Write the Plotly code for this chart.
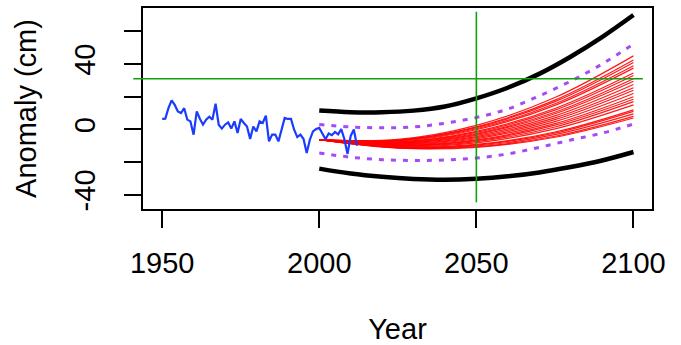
import plotly.graph_objects as go

# ---------------- data ----------------
obs_years = list(range(1950, 2013))
obs_values = [6.4, 6.6, 13.0, 17.8, 15.0, 11.0, 10.0, 13.0, 6.0, 4.9,
              -3.2, 11.0, 6.5, 2.9, 5.9, 7.8, 6.0, 15.7, 2.9, 0.5,
              2.9, 4.3, 0.5, 4.9, -2.2, 6.4, 3.9, 1.8, -5.9, 1.8,
              -1.2, 4.9, 3.9, 8.4, -7.3, -3.2, -3.2, -7.3, -0.2, 7.0,
              6.4, 6.4, -0.2, -4.7, -3.2, -5.9, -14.5, -6.3, -1.2, 0.2,
              0.9, -3.0, -6.0, -2.5, -3.5, -1.5, -3.0, 0.2, -6.0, -15.0,
              -4.0, 0.0, -10.0]

bound_years = [2000, 2010, 2020, 2030, 2040, 2050, 2060, 2070, 2080, 2090, 2100]
outer_upper = [11.5, 10.5, 10.5, 11.5, 14.0, 19.0, 25.5, 34.0, 44.5, 56.5, 70.0]
outer_lower = [-24.0, -27.0, -29.0, -30.3, -30.8, -30.2, -28.7, -26.3, -23.0, -19.0, -13.8]
inner_upper = [3.0, 1.5, 1.0, 1.5, 3.8, 7.3, 12.5, 20.5, 29.5, 40.0, 52.3]
inner_lower = [-14.5, -17.0, -18.5, -19.0, -18.7, -17.5, -15.0, -11.0, -6.5, -2.3, 3.3]

ens_years = [2000, 2025, 2050, 2075, 2100]
ens_runs = [
    [-6.3, -6.1, 2.5, 19.5, 45.0],
    [-6.3, -6.5, 1.6, 17.9, 42.5],
    [-6.3, -6.7, 1.1, 17.0, 41.0],
    [-6.3, -6.9, 0.4, 15.7, 39.0],
    [-6.3, -7.2, -0.2, 14.7, 37.5],
    [-6.3, -7.6, -1.2, 12.8, 34.5],
    [-6.3, -7.8, -1.8, 11.8, 33.0],
    [-6.3, -8.1, -2.5, 10.5, 31.0],
    [-6.3, -8.3, -3.0, 9.6, 29.5],
    [-6.3, -8.6, -3.7, 8.3, 27.5],
    [-6.3, -8.9, -4.4, 7.1, 25.5],
    [-6.3, -9.1, -5.0, 6.0, 24.0],
    [-6.3, -9.4, -5.7, 4.8, 22.0],
    [-6.3, -9.7, -6.4, 3.5, 20.0],
    [-6.3, -9.9, -6.9, 2.6, 18.5],
    [-6.3, -10.1, -7.5, 1.5, 17.0],
    [-6.3, -10.4, -8.2, 0.3, 15.0],
    [-6.3, -10.8, -9.2, -1.6, 12.0],
    [-6.3, -10.9, -9.6, -2.3, 11.0],
    [-6.3, -11.1, -10.1, -3.2, 9.5],
    [-6.3, -11.3, -10.6, -4.2, 8.0],
    [-6.3, -11.5, -11.0, -4.8, 7.0],
]

hline_value = 31.0
hline_span = [1940.8, 2103.0]
vline_year = 2050
vline_span = [-44.6, 72.0]

x_ticks = [1950, 2000, 2050, 2100]
y_ticks = [-40, -20, 0, 20, 40, 60]
y_ticktext = ["-40", "", "0", "", "40", ""]

x_range = [1943.9, 2105.9]
y_range = [-48.7, 74.3]

# ---------------- figure ----------------
fig = go.Figure()

for vals in (outer_upper, outer_lower):
    fig.add_trace(go.Scatter(x=bound_years, y=vals, mode="lines",
                             line=dict(color="black", width=4.5, shape="spline"),
                             showlegend=False))
for vals in (inner_upper, inner_lower):
    fig.add_trace(go.Scatter(x=bound_years, y=vals, mode="lines",
                             line=dict(color="#A64BF4", width=3, shape="spline",
                                       dash="5px,7px"),
                             showlegend=False))
for run in ens_runs:
    fig.add_trace(go.Scatter(x=ens_years, y=run, mode="lines",
                             line=dict(color="rgba(255,0,0,0.9)", width=1.2,
                                       shape="spline"),
                             showlegend=False))
fig.add_trace(go.Scatter(x=obs_years, y=obs_values, mode="lines",
                         line=dict(color="#1A3CFF", width=2.2),
                         showlegend=False))

def px(v):
    return (v - x_range[0]) / (x_range[1] - x_range[0])

def py(v):
    return (v - y_range[0]) / (y_range[1] - y_range[0])

green = "#10A010"
fig.add_shape(type="line", xref="paper", yref="paper",
              x0=px(hline_span[0]), x1=px(hline_span[1]),
              y0=py(hline_value), y1=py(hline_value),
              line=dict(color=green, width=1.6), layer="above")
fig.add_shape(type="line", xref="paper", yref="paper",
              x0=px(vline_year), x1=px(vline_year),
              y0=py(vline_span[0]), y1=py(vline_span[1]),
              line=dict(color=green, width=1.6), layer="above")

font = dict(family="Liberation Sans, Arial, sans-serif", size=29, color="black")

fig.update_layout(
    width=681, height=345,
    margin=dict(l=142.7, r=29.3, t=8.3, b=135.7, autoexpand=False),
    paper_bgcolor="white", plot_bgcolor="white",
    font=font,
    xaxis=dict(range=x_range, tickvals=x_ticks, ticks="outside", ticklen=17,
               tickwidth=1.5, tickcolor="black", showline=True, mirror=True,
               linecolor="black", linewidth=1.5, showgrid=False, zeroline=False,
               tickfont=font, ticklabelstandoff=10, automargin=False,
               title=dict(text="Year", font=font, standoff=43)),
    yaxis=dict(range=y_range, tickvals=y_ticks, ticktext=y_ticktext,
               ticks="outside", ticklen=17, tickwidth=1.5, tickcolor="black",
               showline=True, mirror=True, linecolor="black", linewidth=1.5,
               showgrid=False, zeroline=False, tickangle=-90, tickfont=font,
               ticklabelstandoff=18, automargin=False,
               title=dict(text="Anomaly (cm)", font=font, standoff=24)),
)

fig.write_html("out.html")
